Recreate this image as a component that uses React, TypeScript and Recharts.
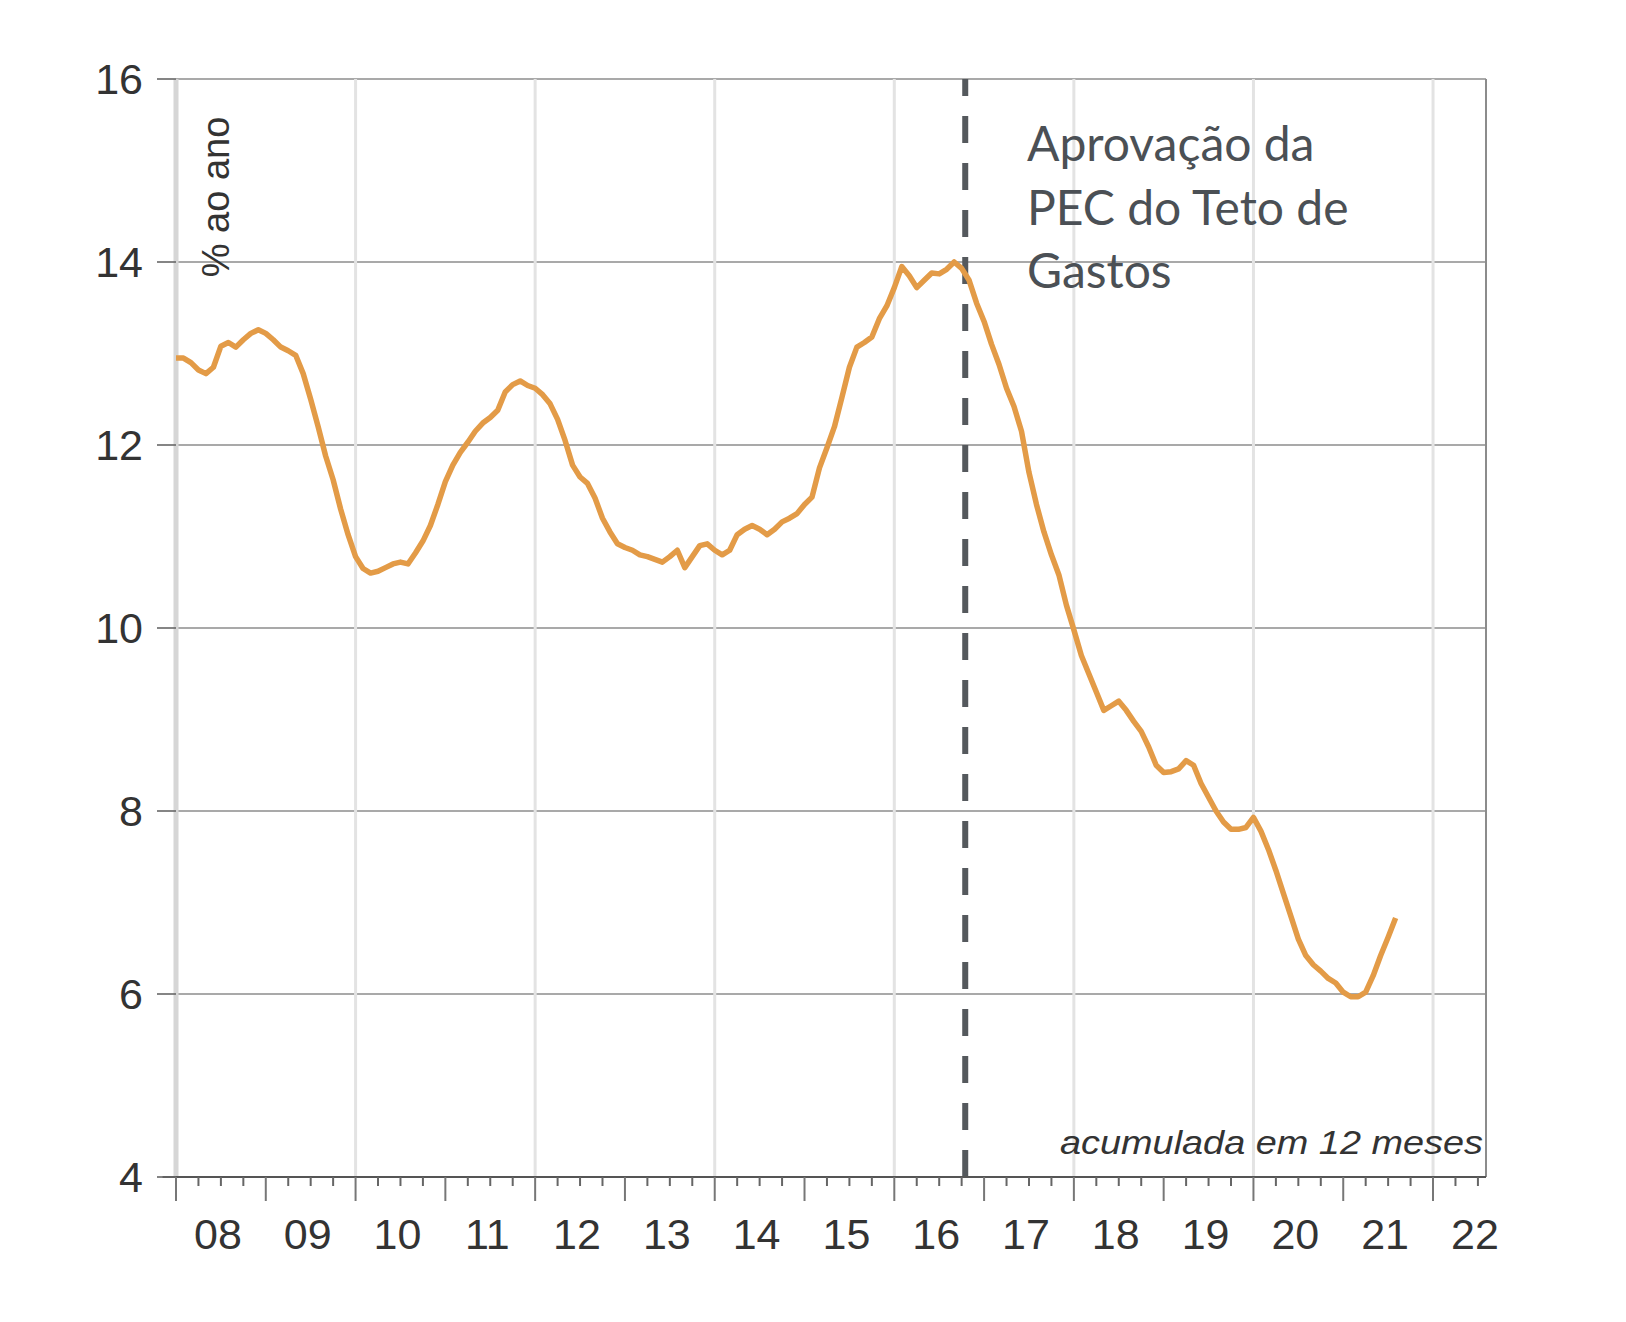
import React from "react";
import { CartesianGrid, Line, LineChart, ReferenceLine, XAxis, YAxis } from "recharts";

// taxa média acumulada em 12 meses, mensal, jan/2008 a ago/2021
const firstYear = 2008;
const rates = [
  // 2008
  12.95, 12.95, 12.9, 12.82, 12.78, 12.85, 13.08, 13.12, 13.07, 13.15, 13.22, 13.26,
  // 2009
  13.22, 13.15, 13.07, 13.03, 12.98, 12.78, 12.5, 12.2, 11.88, 11.62, 11.3, 11.02,
  // 2010
  10.78, 10.65, 10.6, 10.62, 10.66, 10.7, 10.72, 10.7, 10.82, 10.95, 11.12, 11.35,
  // 2011
  11.6, 11.78, 11.92, 12.03, 12.15, 12.24, 12.3, 12.38, 12.58, 12.66, 12.7, 12.65,
  // 2012
  12.62, 12.55, 12.45, 12.28, 12.05, 11.78, 11.65, 11.58, 11.42, 11.2, 11.05, 10.92,
  // 2013
  10.88, 10.85, 10.8, 10.78, 10.75, 10.72, 10.78, 10.85, 10.66, 10.78, 10.9, 10.92,
  // 2014
  10.85, 10.8, 10.85, 11.02, 11.08, 11.12, 11.08, 11.02, 11.08, 11.16, 11.2, 11.25,
  // 2015
  11.35, 11.43, 11.75, 11.97, 12.2, 12.52, 12.85, 13.07, 13.12, 13.18, 13.38, 13.52,
  // 2016
  13.72, 13.95, 13.85, 13.72, 13.8, 13.88, 13.87, 13.92, 14.0, 13.93, 13.8, 13.55,
  // 2017
  13.35, 13.1, 12.88, 12.62, 12.42, 12.15, 11.7, 11.35, 11.05, 10.8, 10.58, 10.25,
  // 2018
  9.98, 9.7, 9.5, 9.3, 9.1, 9.15, 9.2, 9.1, 8.98, 8.87, 8.7, 8.5,
  // 2019
  8.42, 8.43, 8.46, 8.55, 8.5, 8.3, 8.15, 8.0, 7.88, 7.8, 7.8, 7.82,
  // 2020
  7.93, 7.78, 7.58, 7.35, 7.1, 6.85, 6.6, 6.42, 6.32, 6.25, 6.17, 6.12,
  // 2021
  6.02, 5.97, 5.97, 6.02, 6.2, 6.42, 6.62, 6.83,
];

const years = [2008, 2009, 2010, 2011, 2012, 2013, 2014, 2015, 2016, 2017, 2018, 2019, 2020, 2021, 2022];
const yearLabels = ["08", "09", "10", "11", "12", "13", "14", "15", "16", "17", "18", "19", "20", "21", "22"];
const gridYears = [2010, 2012, 2014, 2016, 2018, 2020, 2022];
const yTicks = [4, 6, 8, 10, 12, 14, 16];
const xMax = 2022.59;
const pecApproval = 2016.79;

const annotationLines = ["Aprovação da", "PEC do Teto de", "Gastos"];
const unitLabel = "% ao ano";
const noteLabel = "acumulada em 12 meses";

const rows = rates.map((v, i) => ({ t: firstYear + i / 12, v }));
const xTicks = years
  .flatMap((y) => [y, y + 0.25, y + 0.5, y + 0.75])
  .filter((t) => t <= xMax);

const axisFont = "'Liberation Sans', Arial, sans-serif";

function YearTick(props: any) {
  const { x, y, payload } = props;
  const t: number = payload.value;
  const major = Math.abs(t - Math.round(t)) < 1e-6;
  const mid = Math.abs(t - Math.floor(t) - 0.5) < 1e-6;
  const idx = years.indexOf(Math.floor(t));
  return (
    <g>
      <line x1={x} x2={x} y1={y} y2={y + (major ? 24 : 9)} stroke={major ? "#777" : "#666"} strokeWidth={2} />
      {mid && idx >= 0 ? (
        <text x={x - 3} y={y + 72} textAnchor="middle" fontSize={43} fill="#333" fontFamily={axisFont}>
          {yearLabels[idx]}
        </text>
      ) : null}
    </g>
  );
}

export default function App() {
  return (
    <div style={{ position: "absolute", left: 0, top: 0, width: 1626, height: 1322, background: "#fff" }}>
      <LineChart
        width={1626}
        height={1322}
        data={rows}
        margin={{ top: 79, right: 140, bottom: 65, left: 76 }}
      >
        <CartesianGrid horizontal vertical={false} stroke="#8c8c8c" strokeWidth={1.6} />
        {gridYears.map((y) => (
          <ReferenceLine key={y} x={y} stroke="#e3e3e3" strokeWidth={3} />
        ))}
        <ReferenceLine x={firstYear} stroke="#d6d6d6" strokeWidth={5} />
        <ReferenceLine x={xMax} stroke="#8c8c8c" strokeWidth={2} />
        <XAxis
          dataKey="t"
          type="number"
          domain={[firstYear, xMax]}
          ticks={xTicks}
          interval={0}
          height={80}
          tickSize={0}
          tickMargin={0}
          tick={<YearTick />}
          axisLine={{ stroke: "#555", strokeWidth: 2 }}
          tickLine={false}
        />
        <YAxis
          type="number"
          domain={[4, 16]}
          ticks={yTicks}
          width={100}
          tickSize={19}
          tickMargin={14}
          axisLine={false}
          tickLine={{ stroke: "#666", strokeWidth: 1.6 }}
          tick={{ fontSize: 43, fill: "#333", fontFamily: axisFont }}
        />
        <ReferenceLine
          segment={[
            { x: 2007.85, y: 4 },
            { x: firstYear, y: 4 },
          ]}
          ifOverflow="visible"
          stroke="#555"
          strokeWidth={2}
        />
        <ReferenceLine x={pecApproval} stroke="#55595d" strokeWidth={6} strokeDasharray="27 20" />
        <Line
          type="linear"
          dataKey="v"
          stroke="#e39b47"
          strokeWidth={5.5}
          strokeLinejoin="round"
          dot={false}
          activeDot={false}
          isAnimationActive={false}
        />
      </LineChart>
      <svg
        width={1626}
        height={1322}
        style={{ position: "absolute", left: 0, top: 0, pointerEvents: "none" }}
      >
        <text
          transform="translate(216, 197) rotate(-90)"
          textAnchor="middle"
          dominantBaseline="central"
          fontSize={38}
          fill="#333"
          fontFamily={axisFont}
        >
          {unitLabel}
        </text>
        <text
          x={1483}
          y={1154}
          textAnchor="end"
          fontSize={34}
          fontStyle="italic"
          fill="#333"
          fontFamily={axisFont}
          textLength={423}
          lengthAdjust="spacingAndGlyphs"
        >
          {noteLabel}
        </text>
        {annotationLines.map((line, i) => (
          <text
            key={line}
            x={1027}
            y={161 + i * 63.5}
            fontSize={48}
            fill="#4b5055"
            fontFamily="Lato, 'Open Sans', sans-serif"
          >
            {line}
          </text>
        ))}
      </svg>
    </div>
  );
}
